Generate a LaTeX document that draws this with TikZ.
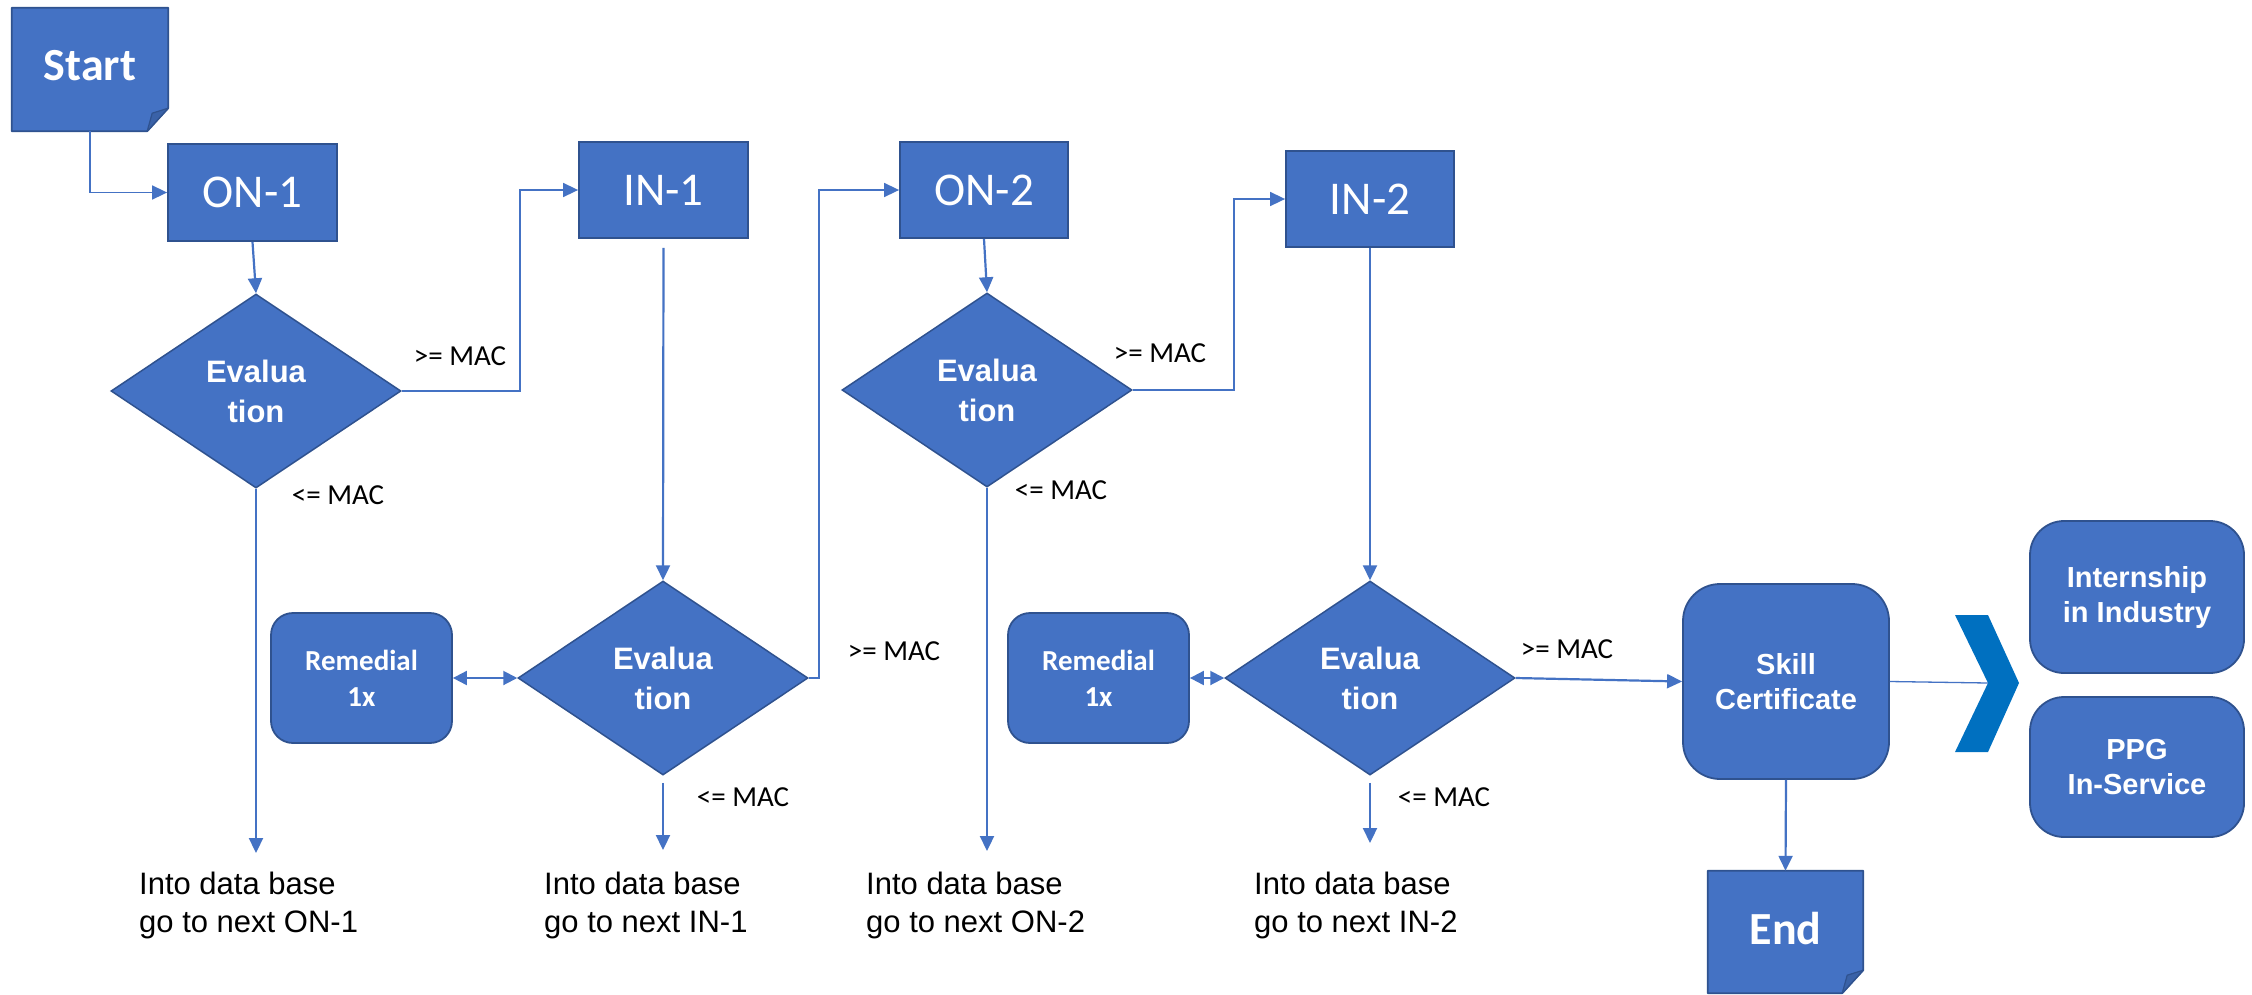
\documentclass[tikz,border=0pt]{standalone}
\usepackage{fontspec}
\setmainfont{Liberation Sans}
\newfontfamily\calfont{Carlito}
\usetikzlibrary{arrows.meta,shapes.geometric,calc}
\definecolor{boxblue}{HTML}{4472C4}
\definecolor{boxedge}{HTML}{2F528F}
\definecolor{chevblue}{HTML}{0070C0}
\definecolor{foldblue}{HTML}{3A62A8}
\pgfdeclarelayer{background}
\pgfdeclarelayer{canvas}
\pgfsetlayers{canvas,background,main}
\begin{document}
\begin{tikzpicture}[x=1pt,y=-1pt,
  box/.style={draw=boxedge, line width=1.8pt, fill=boxblue, text=white, inner sep=0pt,
    font=\calfont\fontsize{47}{56}\selectfont},
  noteshape/.style={draw=none, fill=none, text=white, inner sep=0pt,
    font=\calfont\bfseries\fontsize{46}{55}\selectfont},
  rbox/.style={box, rounded corners=22pt, align=center,
    font=\calfont\bfseries\fontsize{29}{36}\selectfont},
  obox/.style={box, rounded corners=34pt, align=center,
    font=\bfseries\fontsize{29}{35}\selectfont},
  evalbox/.style={diamond, draw=boxedge, line width=1.5pt, fill=boxblue, text=white,
    inner sep=0pt, minimum width=290pt, minimum height=194pt, shape aspect=1.5,
    align=center, font=\bfseries\fontsize{31}{40}\selectfont},
  conn/.style={draw=boxblue, line width=2.2pt, -{Triangle[length=15pt,width=14pt]}},
  elbow/.style={conn, line width=1.6pt},
  dbl/.style={draw=boxblue, line width=2pt,
    {Triangle[length=14pt,width=14pt]}-{Triangle[length=14pt,width=14pt]}},
  lbl/.style={font=\calfont\fontsize{29}{34}\selectfont, inner sep=0pt},
  dbtext/.style={font=\fontsize{31}{38}\selectfont, align=left, inner sep=0pt, anchor=west},
]
\begin{pgfonlayer}{canvas}
\useasboundingbox[fill=white] (0,0) rectangle (2252,994);
\end{pgfonlayer}

% start / end notes
\node[noteshape, minimum width=156pt, minimum height=123pt] (start) at (90,69.5) {\raisebox{8pt}{Start}};
\node[noteshape, minimum width=155pt, minimum height=122pt] (end) at (1785.5,932) {\raisebox{8pt}{End}};
\begin{pgfonlayer}{background}
  \foreach \n in {start,end}{
    \path[fill=boxblue, draw=boxedge, line width=1.8pt, line join=round]
      (\n.north west) -- (\n.north east) -- ($(\n.south east)+(0,-23)$)
      -- ($(\n.south east)+(-21,0)$) -- (\n.south west) -- cycle;
    \path[fill=foldblue, draw=boxedge, line width=1.2pt, line join=round]
      ($(\n.south east)+(0,-23)$) -- ($(\n.south east)+(-16,-18)$)
      -- ($(\n.south east)+(-21,0)$) -- cycle;
  }
\end{pgfonlayer}

% process boxes
\node[box, minimum width=169pt, minimum height=97pt] (on1) at (252.5,192.5) {ON-1};
\node[box, minimum width=169pt, minimum height=96pt] (in1) at (663.5,190) {IN-1};
\node[box, minimum width=168pt, minimum height=96pt] (on2) at (984,190) {ON-2};
\node[box, minimum width=168pt, minimum height=96pt] (in2) at (1370,199) {IN-2};

% evaluations
\node[evalbox] (d1) at (256,391) {Evalua\\tion};
\node[evalbox] (d2) at (663,678) {Evalua\\tion};
\node[evalbox] (d3) at (987,390) {Evalua\\tion};
\node[evalbox] (d4) at (1370,678) {Evalua\\tion};

% remedial
\node[rbox, minimum width=181pt, minimum height=130pt] (r1) at (361.5,678) {Remedial\\1x};
\node[rbox, minimum width=181pt, minimum height=130pt] (r2) at (1098.5,678) {Remedial\\1x};

% outcome boxes
\node[obox, rounded corners=37pt, minimum width=206pt, minimum height=195pt] (skill) at (1786,681.5) {Skill\\Certificate};
\node[obox, minimum width=214pt, minimum height=152pt] (intern) at (2137,597) {Internship\\in Industry};
\node[obox, minimum width=214pt, minimum height=140pt] (ppg) at (2137,767) {PPG\\In-Service};

% chevron
\coordinate (chev) at (1988,683);
\draw[boxblue, line width=1.3pt] (skill.east) -- (chev);
\fill[chevblue] (1955,615) -- (1988,615) -- (2019,683) -- (1988,752) -- (1955,752) -- (chev) -- cycle;

% texts
\node[dbtext] (t1) at (139,905) {Into data base\\go to next ON-1};
\node[dbtext] (t2) at (544,905) {Into data base\\go to next IN-1};
\node[dbtext] (t3) at (866,905) {Into data base\\go to next ON-2};
\node[dbtext] (t4) at (1254,905) {Into data base\\go to next IN-2};

\coordinate (e1) at (256,853);
\coordinate (e2) at (663,850);
\coordinate (e3) at (987,851);
\coordinate (e4) at (1370,843);

% labels
\node[lbl] (g1) at (460,356) {>= MAC};
\node[lbl] (g2) at (894,651) {>= MAC};
\node[lbl] (g3) at (1160,353) {>= MAC};
\node[lbl] (g4) at (1567,649) {>= MAC};
\node[lbl] (l1) at (338,495) {<= MAC};
\node[lbl] (l2) at (743,797) {<= MAC};
\node[lbl] (l3) at (1061,490) {<= MAC};
\node[lbl] (l4) at (1444,797) {<= MAC};

% connectors
\draw[elbow] (start.south) |- (on1.west);
\draw[conn] (on1.south) -- (d1.north);
\draw[elbow] (d1.east) -- ++(118,0) |- (in1.west);
\draw[conn, shorten <=9pt] (in1.south) -- (d2.north);
\draw[elbow] (d2.east) -- ++(10,0) |- (on2.west);
\draw[conn] (on2.south) -- (d3.north);
\draw[elbow] (d3.east) -- ++(101,0) |- (in2.west);
\draw[conn] (in2.south) -- (d4.north);
\draw[conn] (d4.east) -- (skill.west);
\draw[conn] (skill.south) -- (end.north);

\draw[conn] (d1.south) -- (e1);
\draw[conn, shorten <=7pt] (d2.south) -- (e2);
\draw[conn] (d3.south) -- (e3);
\draw[conn, shorten <=7pt] (d4.south) -- (e4);

\draw[dbl] (r1.east) -- (d2.west);
\draw[dbl] (r2.east) -- (d4.west);
\end{tikzpicture}
\end{document}
